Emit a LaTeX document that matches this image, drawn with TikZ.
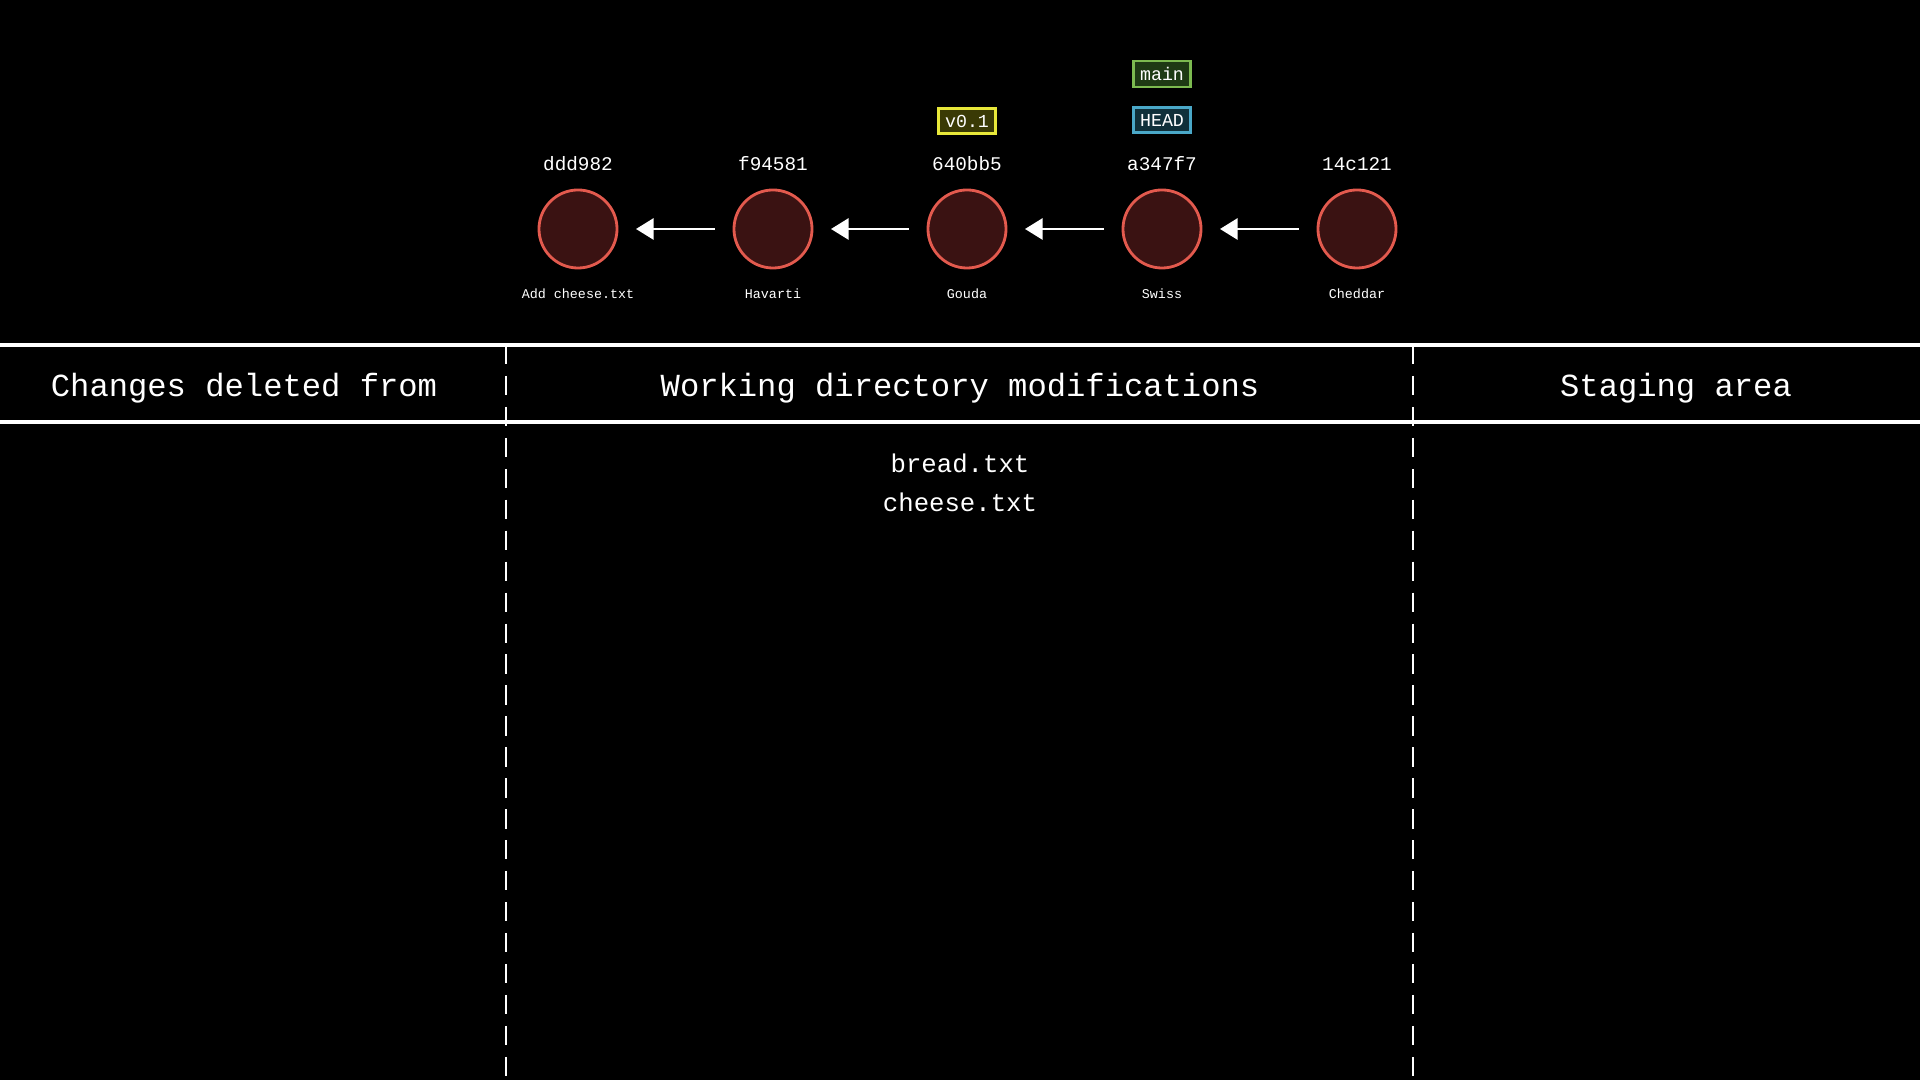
\documentclass[tikz,border=0pt]{standalone}
\usepackage{fontspec}
\setmainfont{Liberation Mono}
\usetikzlibrary{arrows.meta}
\definecolor{commitfill}{HTML}{3A1212}
\definecolor{commitline}{HTML}{E35A4E}
\definecolor{tagfill}{HTML}{3A3A05}
\definecolor{tagline}{HTML}{E8E83A}
\definecolor{mainfill}{HTML}{1E3A14}
\definecolor{mainline}{HTML}{7CBA50}
\definecolor{headfill}{HTML}{10303A}
\definecolor{headline}{HTML}{4AA8C8}
\tikzset{
  commit/.style={circle, draw=commitline, fill=commitfill, line width=0.8pt, minimum size=0.78cm, inner sep=0pt},
  hash/.style={text=white, font=\fontsize{5.5}{6}\selectfont},
  msg/.style={text=white, font=\fontsize{3.8}{4.5}\selectfont},
  ref/.style={line width=0.8pt, text=white, font=\fontsize{5.2}{6}\selectfont, inner sep=1.8pt},
  header/.style={text=white, font=\fontsize{9.15}{10}\selectfont},
  file/.style={text=white, font=\fontsize{7.3}{8}\selectfont},
  divider/.style={white, line width=0.8pt, dash pattern=on 5.5pt off 3.3pt},
  parent/.style={-{Triangle[length=5pt,width=6pt]}, white, line width=0.7pt, shorten >=5pt, shorten <=5pt}
}
\begin{document}
\begin{tikzpicture}[x=0.01cm,y=-0.01cm]
\fill[black] (0,0) rectangle (1920,1080);
\useasboundingbox (0,0) rectangle (1920,1080);

% commits
\foreach \i/\x/\h/\m in {1/578/ddd982/Add cheese.txt, 2/773/f94581/Havarti, 3/967/640bb5/Gouda, 4/1162/a347f7/Swiss, 5/1357/14c121/Cheddar}{
  \node[commit] (c\i) at (\x,229) {};
  \node[hash] (h\i) at (\x,164) {\h};
  \node[msg] (m\i) at (\x,294) {\m};
}
\foreach \i/\j in {2/1,3/2,4/3,5/4}
  \draw[parent] (c\i) -- (c\j);

% refs
\node[ref, draw=tagline, fill=tagfill] (tag) at (967,121) {v0.1};
\node[ref, draw=mainline, fill=mainfill] (main) at (1162,74) {main};
\node[ref, draw=headline, fill=headfill] (head) at (1162,120) {HEAD};

% table
\draw[divider] (506,345) -- (506,1080);
\draw[divider] (1413,345) -- (1413,1080);
\draw[white, line width=1pt] (0,345) -- (1920,345);
\draw[white, line width=1pt] (0,422) -- (1920,422);
\node[header] (deleted) at (244,388) {Changes deleted from};
\node[header] (working) at (960,388) {Working directory modifications};
\node[header] (staging) at (1676,388) {Staging area};

\node[file] (bread) at (960,463) {bread.txt};
\node[file] (cheese) at (960,502) {cheese.txt};
\end{tikzpicture}
\end{document}
